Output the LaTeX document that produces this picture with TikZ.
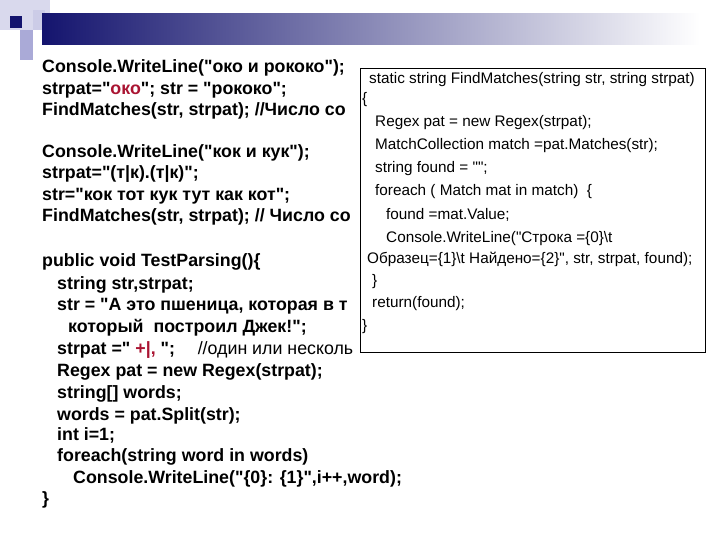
\documentclass[tikz,border=0pt]{standalone}
\usepackage{fontspec}
\setmainfont{Liberation Sans}[Ligatures=TeXOff]
\begin{document}
\begin{tikzpicture}[x=1pt,y=-1pt,
  lt/.style={anchor=base west,inner sep=0,font=\fontsize{17.8}{20}\selectfont\bfseries},
  bt/.style={anchor=base west,inner sep=0,font=\fontsize{15.3}{17}\selectfont},
  boxst/.style={draw=black,fill=white,line width=0.8pt}]
\definecolor{rd}{RGB}{170,20,50}
\definecolor{navy}{RGB}{20,20,110}
\definecolor{lav}{RGB}{170,170,215}
\useasboundingbox (0,0) rectangle (720,540);
\fill[white] (0,0) rectangle (720,540);
% decoration
\fill[lav!45] (0,0) rectangle (50,30);
\fill[lav] (20,30) rectangle (33,60);
\fill[lav!60] (33,10) rectangle (45,30);
\shade[left color=navy,right color=white] (42,14) rectangle (700,45);
\fill[navy] (10,16) rectangle (22,28);
% left code
\node[lt] (l1) at (42,73) {Console.WriteLine("око и рококо");};
\node[lt] (l2) at (42,95) {strpat="\textcolor{rd}{око}"; str = "рококо";};
\node[lt] (l3) at (42,116) {FindMatches(str, strpat); //Число со};
\node[lt] (l4) at (42,158) {Console.WriteLine("кок и кук");};
\node[lt] (l5) at (42,179) {strpat="(т|к).(т|к)";};
\node[lt] (l6) at (42,201) {str="кок тот кук тут как кот";};
\node[lt] (l7) at (42,222) {FindMatches(str, strpat); // Число со};
\node[lt] (l8) at (42,266) {public void TestParsing()\{};
\node[lt] (l9) at (57,289) {string str,strpat;};
\node[lt] (l10) at (57,310) {str = "А это пшеница, которая в т};
\node[lt] (l11) at (68,332) {который\ \ построил Джек!";};
\node[lt] (l12) at (57,354) {strpat =" \textcolor{rd}{+|,} ";\quad\ \mdseries//один или несколь};
\node[lt] (l13) at (57,376) {Regex pat = new Regex(strpat);};
\node[lt] (l14) at (57,398) {string[] words;};
\node[lt] (l15) at (57,420) {words = pat.Split(str);};
\node[lt] (l16) at (57,440) {int i=1;};
\node[lt] (l17) at (57,461) {foreach(string word in words)};
\node[lt] (l18) at (73,483) {Console.WriteLine("\{0\}: \{1\}",i++,word);};
\node[lt] (l19) at (42,504) {\}};
% box
\draw[boxst] (360,68) rectangle (705,352);
\node[bt] (b1) at (369,84) {static string FindMatches(string str, string strpat)};
\node[bt] (b2) at (362,104) {\{};
\node[bt] (b3) at (375,127) {Regex pat = new Regex(strpat);};
\node[bt] (b4) at (375,150) {MatchCollection match =pat.Matches(str);};
\node[bt] (b5) at (375,173) {string found = "";};
\node[bt] (b6) at (375,196) {foreach ( Match mat in match)\ \ \{};
\node[bt] (b7) at (386,219) {found =mat.Value;};
\node[bt] (b8) at (386,242) {Console.WriteLine("Строка =\{0\}\textbackslash t};
\node[bt] (b9) at (367,263) {Образец=\{1\}\textbackslash t Найдено=\{2\}", str, strpat, found);};
\node[bt] (b10) at (372,285) {\}};
\node[bt] (b11) at (372,307) {return(found);};
\node[bt] (b12) at (362,330) {\}};
\end{tikzpicture}
\end{document}
